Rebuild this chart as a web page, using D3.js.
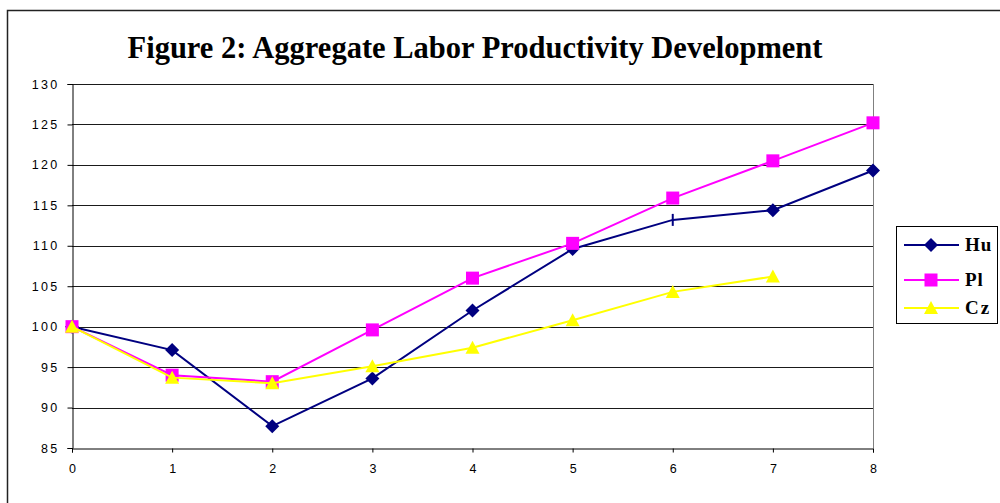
<!DOCTYPE html>
<html>
<head>
<meta charset="utf-8">
<script src="https://cdn.jsdelivr.net/npm/d3@7"></script>
<style>
  html, body { margin: 0; padding: 0; background: #fff; }
  svg { display: block; }
</style>
</head>
<body>
<svg id="chart" width="1000" height="503"></svg>
<script>
// Years since start of transition
const periods = [0, 1, 2, 3, 4, 5, 6, 7, 8];
const yTicks = [85, 90, 95, 100, 105, 110, 115, 120, 125, 130];

// Labor productivity index (start = 100)
const huValues = [100, 97.1, 87.7, 93.6, 102.0, 109.6, 113.2, 114.4, 119.3];
const plValues = [100, 94.0, 93.2, 99.6, 106.0, 110.3, 115.9, 120.5, 125.2];
const czValues = [100, 93.7, 93.0, 95.1, 97.4, 100.8, 104.3, 106.2];

const seriesNames = ["Hu", "Pl", "Cz"];
const seriesColors = ["#000080", "#ff00ff", "#ffff00"];
const seriesValues = [huValues, plValues, czValues];

const svg = d3.select("#chart");

// Outer frame
svg.append("rect")
  .attr("x", 7.5).attr("y", 10.5)
  .attr("width", 1010).attr("height", 510)
  .attr("fill", "none").attr("stroke", "#222").attr("stroke-width", 1.5);

// Title
svg.append("text")
  .attr("x", 475).attr("y", 58)
  .attr("text-anchor", "middle")
  .attr("font-family", "'Liberation Serif', 'Times New Roman', serif")
  .attr("font-weight", "bold")
  .attr("font-size", 30.5)
  .text("Figure 2: Aggregate Labor Productivity Development");

const x = d3.scaleLinear().domain([0, 8]).range([72, 873]);
const y = d3.scaleLinear().domain([85, 130]).range([448, 84]);

// Horizontal gridlines
svg.append("g")
  .selectAll("line")
  .data(yTicks.filter(d => d > 85))
  .join("line")
  .attr("x1", x(0)).attr("x2", x(8))
  .attr("y1", d => Math.round(y(d)) + 0.5).attr("y2", d => Math.round(y(d)) + 0.5)
  .attr("stroke", "#1a1a1a").attr("stroke-width", 1);

// Right edge of plot area
svg.append("line")
  .attr("x1", Math.round(x(8)) + 0.5).attr("x2", Math.round(x(8)) + 0.5)
  .attr("y1", y(130)).attr("y2", y(85))
  .attr("stroke", "#808080");

const tickFont = "'Liberation Sans', Arial, sans-serif";

// Y axis
const yAxis = svg.append("g")
  .attr("transform", `translate(${Math.round(x(0)) + 0.5},0)`)
  .call(d3.axisLeft(y).tickValues(yTicks).tickSize(5).tickPadding(8).tickFormat(d3.format("d")));
yAxis.select(".domain").attr("stroke", "#000");
yAxis.selectAll(".tick line").attr("stroke", "#000");
yAxis.selectAll(".tick text")
  .attr("font-family", tickFont).attr("font-size", 12.5)
  .attr("letter-spacing", "2.3px").attr("fill", "#000");

// X axis
const xAxis = svg.append("g")
  .attr("transform", `translate(0,${Math.round(y(85)) + 0.5})`)
  .call(d3.axisBottom(x).tickValues(periods).tickSize(4).tickPadding(12).tickFormat(d3.format("d")));
xAxis.select(".domain").attr("stroke", "#000");
xAxis.selectAll(".tick line").attr("stroke", "#000");
xAxis.selectAll(".tick text")
  .attr("font-family", tickFont).attr("font-size", 12.5).attr("fill", "#000");

const line = d3.line().x((d, i) => x(periods[i])).y(d => y(d));

function drawMarker(g, kind, color, cx, cy) {
  if (kind === 0) {
    g.append("path")
      .attr("d", `M${cx},${cy - 7}L${cx + 7},${cy}L${cx},${cy + 7}L${cx - 7},${cy}Z`)
      .attr("fill", color);
  } else if (kind === 1) {
    g.append("rect")
      .attr("x", cx - 6.5).attr("y", cy - 6.5).attr("width", 13).attr("height", 13)
      .attr("fill", color);
  } else {
    g.append("path")
      .attr("d", `M${cx},${cy - 7}L${cx + 7},${cy + 6}L${cx - 7},${cy + 6}Z`)
      .attr("fill", color);
  }
}

// Series lines and markers
seriesValues.forEach((vals, s) => {
  const g = svg.append("g");
  g.append("path")
    .datum(vals)
    .attr("d", line)
    .attr("fill", "none")
    .attr("stroke", seriesColors[s])
    .attr("stroke-width", 2);
  vals.forEach((v, i) => {
    const cx = x(periods[i]), cy = y(v);
    if (s === 0 && i === 6) {
      // this point carries only a short vertical tick
      g.append("line")
        .attr("x1", cx).attr("x2", cx).attr("y1", cy - 6).attr("y2", cy + 6)
        .attr("stroke", seriesColors[s]).attr("stroke-width", 2);
    } else {
      drawMarker(g, s, seriesColors[s], cx, cy);
    }
  });
});

// Legend
const legend = svg.append("g");
legend.append("rect")
  .attr("x", 896.5).attr("y", 226.5).attr("width", 101).attr("height", 97)
  .attr("fill", "#fff").attr("stroke", "#000").attr("stroke-width", 1);
const legendY = [245, 280, 308];
seriesNames.forEach((name, s) => {
  const ly = legendY[s];
  legend.append("line")
    .attr("x1", 904).attr("x2", 959).attr("y1", ly).attr("y2", ly)
    .attr("stroke", seriesColors[s]).attr("stroke-width", 2);
  drawMarker(legend, s, seriesColors[s], 931, ly);
  legend.append("text")
    .attr("x", 965).attr("y", ly + 6)
    .attr("font-family", "'Liberation Serif', 'Times New Roman', serif")
    .attr("font-weight", "bold").attr("font-size", 19)
    .attr("letter-spacing", s === 2 ? "2px" : "1px")
    .text(name);
});
</script>
</body>
</html>
